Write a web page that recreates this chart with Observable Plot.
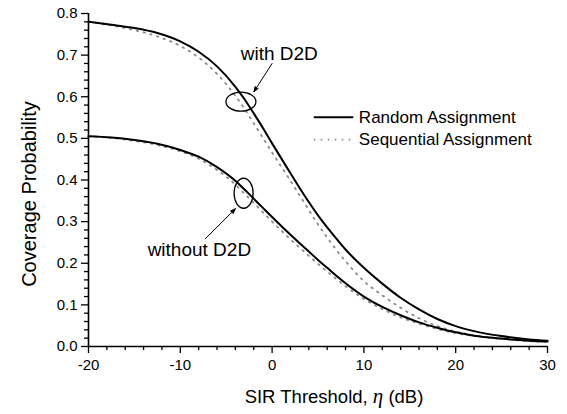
<!DOCTYPE html>
<html><head><meta charset="utf-8">
<script src="https://cdn.jsdelivr.net/npm/d3@7"></script>
<script src="https://cdn.jsdelivr.net/npm/@observablehq/plot@0.6"></script>
<style>
body{margin:0;background:#fff}
#chart svg{font-family:"Liberation Sans",Arial,sans-serif;}
</style>
</head><body><div id="chart"></div>
<script>
// SIR threshold (dB)
const sir = [-20,-17.5,-15,-12.5,-10,-8,-6,-4,-3,-2,-1,0,1,2,3,4,5,6,7,8,10,12,14,16,18,20,22,25,28,30];
const randomWithD2D = [0.780,0.773,0.765,0.753,0.733,0.708,0.673,0.624,0.594,0.560,0.525,0.488,0.452,0.416,0.381,0.347,0.315,0.286,0.259,0.233,0.189,0.151,0.117,0.089,0.066,0.049,0.037,0.025,0.017,0.014];
const sequentialWithD2D = [0.780,0.771,0.760,0.745,0.722,0.694,0.655,0.602,0.571,0.536,0.501,0.466,0.432,0.398,0.363,0.328,0.293,0.262,0.232,0.205,0.157,0.123,0.093,0.068,0.049,0.036,0.027,0.019,0.014,0.012];
const randomWithoutD2D = [0.505,0.502,0.496,0.487,0.472,0.456,0.431,0.398,0.377,0.355,0.333,0.311,0.2895,0.2685,0.248,0.228,0.208,0.189,0.170,0.152,0.120,0.095,0.075,0.058,0.045,0.034,0.026,0.019,0.014,0.012];
const sequentialWithoutD2D = [0.505,0.501,0.494,0.484,0.469,0.451,0.424,0.389,0.367,0.345,0.3225,0.300,0.2785,0.2575,0.2375,0.218,0.1985,0.180,0.162,0.145,0.114,0.090,0.070,0.055,0.042,0.032,0.025,0.018,0.013,0.011];

const xTicks = [-20,-10,0,10,20,30];
const xMinorTicks = [-18,-16,-14,-12,-8,-6,-4,-2,2,4,6,8,12,14,16,18,22,24,26,28];
const yTicks = [0,0.1,0.2,0.3,0.4,0.5,0.6,0.7,0.8];
const yMinorTicks = [0.02,0.04,0.06,0.08,0.12,0.14,0.16,0.18,0.22,0.24,0.26,0.28,0.32,0.34,0.36,0.38,0.42,0.44,0.46,0.48,0.52,0.54,0.56,0.58,0.62,0.64,0.66,0.68,0.72,0.74,0.76,0.78];

const legendLabels = ["Random Assignment","Sequential Assignment"];
const annotationLabels = ["with D2D","without D2D"];
// annotation anchors in data units (SIR dB, probability)
const annotationText = [{x:0.78,y:0.703},{x:-7.92,y:0.231}];
const annotationEllipse = [{x:-3.34,y:0.587},{x:-3.05,y:0.367}];
const annotationArrow = [{x1:0.0,y1:0.68,x2:-1.98,y2:0.612},{x1:-7.27,y1:0.259,x2:-4.0,y2:0.331}];

const toRows = (vals, group) => sir.map((s,i)=>({sir:s, p:vals[i], group}));
const randomRows = [...toRows(randomWithD2D,"with"), ...toRows(randomWithoutD2D,"without")];
const seqRows = [...toRows(sequentialWithD2D,"with"), ...toRows(sequentialWithoutD2D,"without")];

const ellipseRadii = [[15,9.5],[9.5,15]];
const ellipseMark = Plot.dot(annotationEllipse, {
  x:"x", y:"y", r:0,
  render: (index, scales) => {
    const g = d3.create("svg:g");
    for (const i of index) {
      const d = annotationEllipse[i];
      g.append("ellipse")
        .attr("cx", scales.x(d.x)).attr("cy", scales.y(d.y))
        .attr("rx", ellipseRadii[i][0]).attr("ry", ellipseRadii[i][1])
        .attr("fill","none").attr("stroke","#000").attr("stroke-width",1.3);
    }
    return g.node();
  }
});

const legendY = [0.551, 0.497];
const seqStyle = {stroke: "#8a8a8a", strokeWidth: 1.8, strokeDasharray: "1.5,5.5"};
const randStyle = {stroke: "#000", strokeWidth: 2};

const chart = Plot.plot({
  width: 567, height: 414,
  marginLeft: 88, marginRight: 20, marginTop: 13, marginBottom: 68,
  x: {domain: [-20, 30]},
  y: {domain: [0, 0.8]},
  style: {fontFamily: "Liberation Sans, Arial, sans-serif", fontSize: "15px", color: "#000", background: "#fff", overflow: "visible"},
  marks: [
    Plot.axisX({ticks: xMinorTicks, tickSize: 4, text: null, label: null, strokeWidth: 1.3}),
    Plot.axisX({ticks: xTicks, tickSize: 7, tickPadding: 6, tickFormat: d => String(d), label: null, fontSize: 15, strokeWidth: 1.3}),
    Plot.axisY({ticks: yMinorTicks, tickSize: 4, text: null, label: null, strokeWidth: 1.3}),
    Plot.axisY({ticks: yTicks, tickSize: 7, tickPadding: 4, tickFormat: d3.format(".1f"), label: null, fontSize: 15, strokeWidth: 1.3}),
    Plot.ruleX([-20], {stroke: "#000", strokeWidth: 1.6}),
    Plot.ruleY([0], {stroke: "#000", strokeWidth: 1.6}),
    Plot.line(seqRows, {x: "sir", y: "p", z: "group", ...seqStyle, curve: "monotone-x"}),
    Plot.line(randomRows, {x: "sir", y: "p", z: "group", ...randStyle, curve: "monotone-x"}),
    ellipseMark,
    Plot.arrow(annotationArrow, {x1: "x1", y1: "y1", x2: "x2", y2: "y2", stroke: "#000", fill: "#000", strokeWidth: 1, headLength: 8, headAngle: 40}),
    Plot.text(annotationLabels, {x: (d,i) => annotationText[i].x, y: (d,i) => annotationText[i].y, text: d => d, fontSize: 19, textAnchor: "middle", fill: "#000"}),
    // legend
    Plot.link([legendLabels[0]], {x1: 4.54, x2: 8.84, y1: legendY[0], y2: legendY[0], ...randStyle}),
    Plot.link([legendLabels[1]], {x1: 4.54, x2: 8.84, y1: legendY[1], y2: legendY[1], ...seqStyle}),
    Plot.text(legendLabels, {x: 9.45, y: (d,i) => legendY[i], text: d => d, textAnchor: "start", fontSize: 17, fill: "#000"})
  ]
});

const svg = d3.select(chart);
// axis titles
svg.append("text")
  .attr("transform", "translate(31,194) rotate(-90)")
  .attr("text-anchor", "middle").attr("dominant-baseline", "middle")
  .attr("font-size", 20).attr("fill", "#000")
  .text("Coverage Probability");
const xt = svg.append("text")
  .attr("x", 334).attr("y", 398)
  .attr("text-anchor", "middle").attr("dominant-baseline", "middle")
  .attr("font-size", 18.5).attr("fill", "#000");
xt.append("tspan").text("SIR Threshold, ");
xt.append("tspan").attr("font-style", "italic").attr("font-family", "Liberation Serif, Times New Roman, serif").attr("font-size", 21).text("η");
xt.append("tspan").text(" (dB)");

document.getElementById("chart").appendChild(chart);
</script>
</body></html>
